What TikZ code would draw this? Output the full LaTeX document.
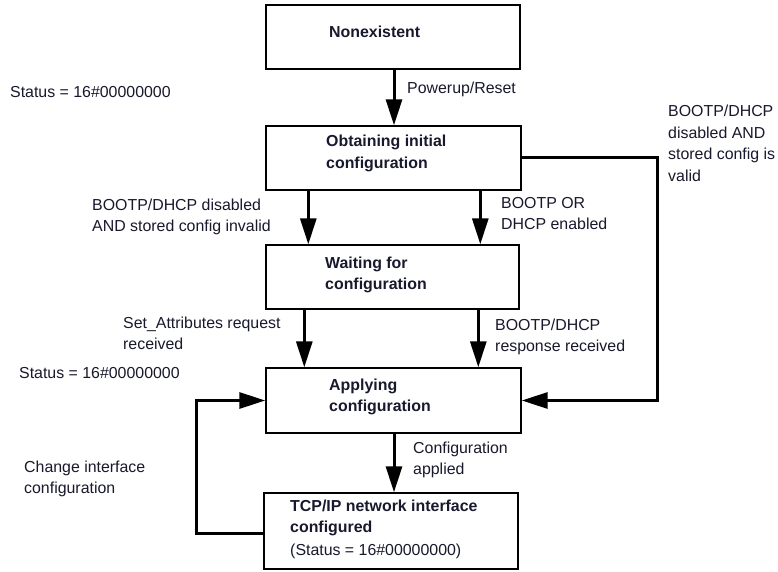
\documentclass[tikz,border=0pt]{standalone}
\usepackage{fontspec}
\setmainfont{Liberation Sans}
\usetikzlibrary{arrows.meta}
\definecolor{txt}{RGB}{25,25,45}
\begin{document}
\begin{tikzpicture}[x=1pt,y=-1pt,
  box/.style={draw=black,line width=1.4pt,inner sep=0pt,fill=white},
  lbl/.style={anchor=base west,inner sep=0pt,align=left,text=txt,
    font=\fontsize{15.9}{21.5}\selectfont},
  blbl/.style={lbl,font=\fontsize{15.9}{21.5}\selectfont\bfseries},
  arr/.style={line width=3pt,-{Triangle[length=26pt,width=16pt]}},
  link/.style={line width=3pt}]
\useasboundingbox[fill=white] (0,0) rectangle (778,572);

% boxes
\node[box,minimum width=254pt,minimum height=64pt] (b1) at (393,37) {};
\node[box,minimum width=255pt,minimum height=64pt] (b2) at (393.5,158) {};
\node[box,minimum width=253pt,minimum height=64pt] (b3) at (392.5,277) {};
\node[box,minimum width=255pt,minimum height=65pt] (b4) at (393.5,400.5) {};
\node[box,minimum width=254pt,minimum height=76pt] (b5) at (391,531) {};

% box texts (anchor = baseline of last line)
\node[blbl] (t1) at (329,38) {Nonexistent};
\node[blbl] (t2) at (326,168.5) {Obtaining initial\\configuration};
\node[blbl] (t3) at (325,289.5) {Waiting for\\configuration};
\node[blbl] (t4) at (329,411.5) {Applying\\configuration};
\node[blbl] (t5) at (290,532.5) {TCP/IP network interface\\configured};
\node[lbl] (t5b) at (290,555) {(Status = 16\#00000000)};

% connectors
\draw[arr] ([xshift=1pt]b1.south) -- ([xshift=1pt]b1.south |- b2.north);
\draw[arr] ([xshift=43pt]b2.south west) -- ([xshift=43pt]b2.south west |- b3.north);
\draw[arr] ([xshift=215pt]b2.south west) -- ([xshift=215pt]b2.south west |- b3.north);
\draw[arr] ([xshift=39pt]b3.south west) -- ([xshift=39pt]b3.south west |- b4.north);
\draw[arr] ([xshift=213pt]b3.south west) -- ([xshift=213pt]b3.south west |- b4.north);
\draw[arr] ([xshift=0.5pt]b4.south) -- ([xshift=0.5pt]b4.south |- b5.north);

\coordinate (rc) at (657,157);
\coordinate (lc) at (196,533);
\draw[arr] (b2.east) -- (b2.east -| rc) -- (b4.east -| rc) -- (b4.east);
\draw[arr] (b5.west |- lc) -- (lc) |- (b4.west);

% labels
\node[lbl] (s1) at (10,98) {Status = 16\#00000000};
\node[lbl] (l1) at (407,94) {Powerup/Reset};
\node[lbl] (l2) at (668,181.5) {BOOTP/DHCP\\disabled AND\\stored config is\\valid};
\node[lbl] (l3) at (92,231.5) {BOOTP/DHCP disabled\\AND stored config invalid};
\node[lbl] (l4) at (501,229.5) {BOOTP OR\\DHCP enabled};
\node[lbl] (l5) at (123,349.5) {Set\_Attributes request\\received};
\node[lbl] (l6) at (495,351.5) {BOOTP/DHCP\\response received};
\node[lbl] (s2) at (19,378) {Status = 16\#00000000};
\node[lbl] (l7) at (413,474.5) {Configuration\\applied};
\node[lbl] (l8) at (24,493.5) {Change interface\\configuration};
\end{tikzpicture}
\end{document}
